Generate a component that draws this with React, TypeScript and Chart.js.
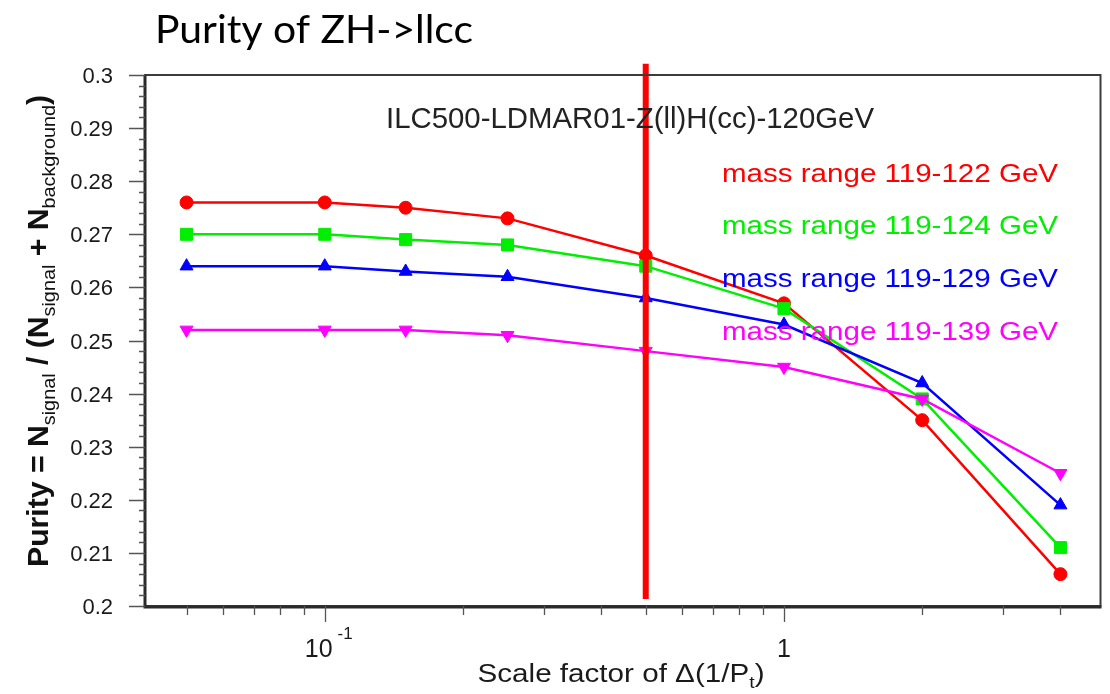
import React, { useEffect, useRef } from "react";
import { Chart, registerables } from "chart.js";

Chart.register(...registerables);

// ---- data ----
const scaleFactors = [0.05, 0.1, 0.15, 0.25, 0.5, 1, 2, 4];
const purity119to122 = [0.276, 0.276, 0.275, 0.273, 0.266, 0.257, 0.235, 0.206];
const purity119to124 = [0.270, 0.270, 0.269, 0.268, 0.264, 0.256, 0.239, 0.211];
const purity119to129 = [0.264, 0.264, 0.263, 0.262, 0.258, 0.253, 0.242, 0.219];
const purity119to139 = [0.252, 0.252, 0.252, 0.251, 0.248, 0.245, 0.239, 0.225];
const seriesLabels = [
  "mass range 119-122 GeV",
  "mass range 119-124 GeV",
  "mass range 119-129 GeV",
  "mass range 119-139 GeV",
];
const seriesColors = ["#ff0000", "#00ee00", "#0000ff", "#ff00ff"];
const yMajorTicks = [0.2, 0.21, 0.22, 0.23, 0.24, 0.25, 0.26, 0.27, 0.28, 0.29, 0.3];
const yMinorTicks = Array.from({ length: 51 }, (_, i) => +(0.2 + i * 0.002).toFixed(3));
const xMajorTicks = [0.1, 1];
const xMajorLabels = [["10", "-1"], ["1", ""]];
const xMinorTicks = [0.05, 0.06, 0.07, 0.08, 0.09, 0.2, 0.3, 0.4, 0.5, 0.6, 0.7, 0.8, 0.9, 2, 3, 4];
const cutX = 0.5;
const cutY = [0.2013, 0.3021];
const pageTitle = "Purity of ZH->llcc";
const plotTitle = "ILC500-LDMAR01-Z(ll)H(cc)-120GeV";

type Seg = { t: string; size: number; dy?: number; dx?: number; weight?: string };

function drawRich(
  ctx: CanvasRenderingContext2D,
  segs: Seg[],
  family: string,
  x: number,
  y: number,
  align: "left" | "center" | "right",
  target: number | null,
  color: string
) {
  let total = 0;
  const widths = segs.map((s) => {
    ctx.font = `${s.weight || "normal"} ${s.size}px ${family}`;
    const w = ctx.measureText(s.t).width + (s.dx || 0);
    total += w;
    return w;
  });
  const sx = target ? target / total : 1;
  const start = align === "left" ? 0 : align === "center" ? (-total * sx) / 2 : -total * sx;
  ctx.save();
  ctx.translate(x + start, y);
  ctx.scale(sx, 1);
  ctx.fillStyle = color;
  ctx.textAlign = "left";
  ctx.textBaseline = "alphabetic";
  let cx = 0;
  segs.forEach((s, i) => {
    ctx.font = `${s.weight || "normal"} ${s.size}px ${family}`;
    cx += s.dx || 0;
    ctx.fillText(s.t, cx, s.dy || 0);
    cx += widths[i] - (s.dx || 0);
  });
  ctx.restore();
}

const SANS = '"Liberation Sans", Arial, sans-serif';

const decorPlugin = {
  id: "decor",
  afterDatasetsDraw(chart: any) {
    const ctx: CanvasRenderingContext2D = chart.ctx;
    const { left, top, right, bottom } = chart.chartArea;
    const xs = chart.scales.x;
    const ys = chart.scales.y;
    ctx.save();
    // frame
    ctx.strokeStyle = "#3c3c3c";
    ctx.lineWidth = 2;
    ctx.strokeRect(left, top, right - left, bottom - top);
    ctx.strokeStyle = "#2a2a2a";
    ctx.lineWidth = 3;
    ctx.beginPath();
    ctx.moveTo(left, top);
    ctx.lineTo(left, bottom + 1);
    ctx.lineTo(right + 1, bottom + 1);
    ctx.stroke();

    // ticks
    ctx.strokeStyle = "#555";
    ctx.lineWidth = 1.3;
    ctx.beginPath();
    yMinorTicks.forEach((v) => {
      const py = Math.round(ys.getPixelForValue(v)) + 0.5;
      ctx.moveTo(left - 6, py);
      ctx.lineTo(left, py);
    });
    yMajorTicks.forEach((v) => {
      const py = Math.round(ys.getPixelForValue(v)) + 0.5;
      ctx.moveTo(left - 16, py);
      ctx.lineTo(left, py);
    });
    xMinorTicks.forEach((v) => {
      const px = Math.round(xs.getPixelForValue(v)) + 0.5;
      ctx.moveTo(px, bottom);
      ctx.lineTo(px, bottom + 9);
    });
    xMajorTicks.forEach((v) => {
      const px = Math.round(xs.getPixelForValue(v)) + 0.5;
      ctx.moveTo(px, bottom);
      ctx.lineTo(px, bottom + 16);
    });
    ctx.stroke();

    // y tick labels
    yMajorTicks.forEach((v) => {
      const py = ys.getPixelForValue(v);
      const lbl = String(+v.toFixed(2));
      drawRich(ctx, [{ t: lbl, size: 22 }], SANS, left - 32, py + 8, "right", null, "#1a1a1a");
    });
    // x tick labels
    xMajorTicks.forEach((v, i) => {
      const px = xs.getPixelForValue(v);
      const [base, sup] = xMajorLabels[i];
      const segs: Seg[] = [{ t: base, size: 25 }];
      if (sup) segs.push({ t: sup, size: 17, dy: -18, dx: 5 });
      drawRich(ctx, segs, SANS, sup ? px + 4 : px, bottom + 51, "center", null, "#1a1a1a");
    });

    // axis titles
    drawRich(
      ctx,
      [
        { t: "Scale factor of \u0394(1/P", size: 26 },
        { t: "t", size: 17, dy: 6 },
        { t: ")", size: 26 },
      ],
      SANS,
      621,
      682,
      "center",
      287,
      "#1a1a1a"
    );
    ctx.save();
    ctx.translate(48, 331);
    ctx.rotate(-Math.PI / 2);
    drawRich(
      ctx,
      [
        { t: "Purity = N", size: 29, weight: "bold" },
        { t: "signal", size: 19, dy: 7 },
        { t: " / (N", size: 29, weight: "bold" },
        { t: "signal", size: 19, dy: 7 },
        { t: " + N", size: 29, weight: "bold" },
        { t: "background", size: 19, dy: 7 },
        { t: ")", size: 29, weight: "bold" },
      ],
      SANS,
      0,
      0,
      "center",
      472,
      "#111"
    );
    ctx.restore();

    // titles
    drawRich(ctx, [{ t: pageTitle, size: 39 }], '"Lato", "Open Sans", sans-serif', 155, 43, "left", 318, "#000");
    drawRich(ctx, [{ t: plotTitle, size: 29 }], SANS, 630, 128, "center", 488, "#222");

    // legend text
    const baselines = [182, 234, 287, 340];
    seriesLabels.forEach((lbl, i) => {
      drawRich(ctx, [{ t: lbl, size: 26 }], SANS, 1058, baselines[i], "right", 336, seriesColors[i]);
    });
    ctx.restore();
  },
};

export default function App() {
  const canvasRef = useRef<HTMLCanvasElement | null>(null);

  useEffect(() => {
    if (!canvasRef.current) return;
    const seriesValues = [purity119to122, purity119to124, purity119to129, purity119to139];
    const pointStyles = ["circle", "rect", "triangle", "triangle"];
    const pointRadii = [6.5, 8.5, 7.5, 7.5];
    const rotations = [0, 0, 0, 180];
    const datasets: any[] = [
      {
        label: "cut",
        data: cutY.map((y) => ({ x: cutX, y })),
        borderColor: "#ff0000",
        backgroundColor: "#ff0000",
        borderWidth: 6,
        pointRadius: 0,
        clip: false,
        order: 0,
      },
    ];
    seriesValues.forEach((vals, k) => {
      datasets.push({
        label: seriesLabels[k],
        data: scaleFactors.map((x, i) => ({ x, y: vals[i] })),
        borderColor: seriesColors[k],
        backgroundColor: seriesColors[k],
        pointBackgroundColor: seriesColors[k],
        pointBorderColor: seriesColors[k],
        pointBorderWidth: 1,
        borderWidth: 2.5,
        pointStyle: pointStyles[k],
        pointRadius: pointRadii[k],
        pointRotation: rotations[k],
        tension: 0,
        order: 4 - k,
      });
    });
    const chart = new Chart(canvasRef.current, {
      type: "line",
      data: { datasets },
      options: {
        responsive: false,
        animation: false,
        layout: { padding: { left: 145, top: 75, right: 8, bottom: 88 } },
        scales: {
          x: { type: "logarithmic", min: 0.0406, max: 4.89, display: false },
          y: { type: "linear", min: 0.2, max: 0.3, display: false },
        },
        plugins: {
          legend: { display: false },
          tooltip: { enabled: false },
          title: { display: false },
        },
      },
      plugins: [decorPlugin],
    } as any);
    return () => chart.destroy();
  }, []);

  return (
    <div style={{ position: "absolute", left: 0, top: 0, width: 1110, height: 694, background: "#fff" }}>
      <canvas ref={canvasRef} width={1110} height={694} style={{ display: "block" }} />
    </div>
  );
}
